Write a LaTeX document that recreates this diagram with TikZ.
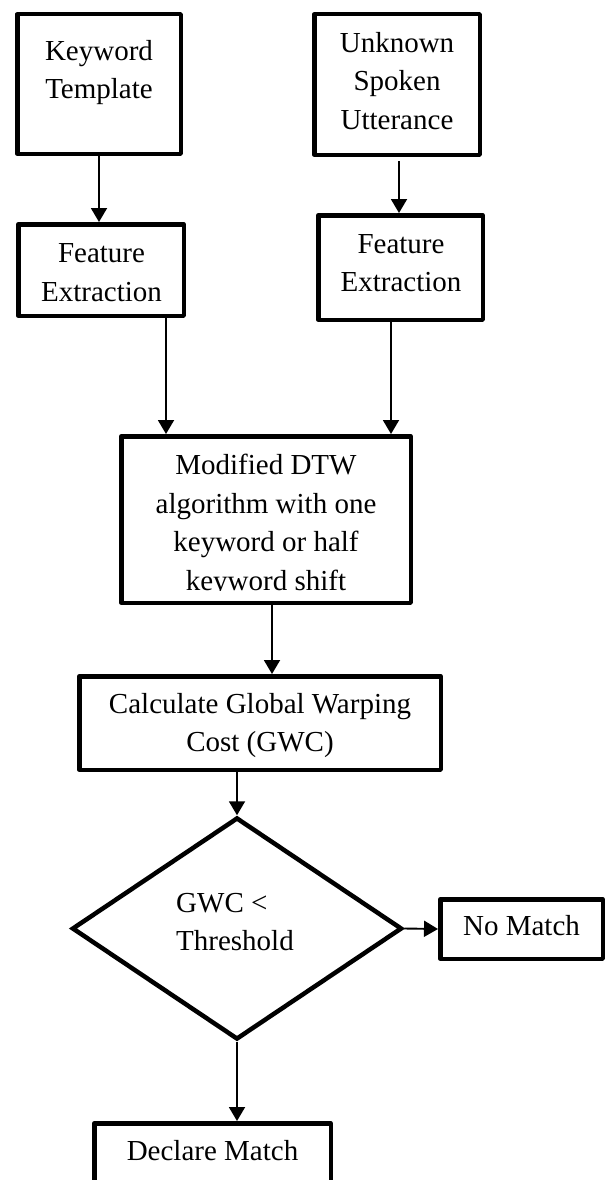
\documentclass[tikz,border=0pt]{standalone}
\usepackage{fontspec}
\setmainfont{Liberation Serif}
\usetikzlibrary{arrows.meta,shapes.geometric}
\tikzset{
  box/.style={draw, line width=4.5pt, line join=round, rectangle, inner sep=0pt},
  dia/.style={draw, line width=4.5pt, diamond, inner sep=0pt},
  txt/.style={font=\fontsize{29}{38.5}\selectfont, align=center, inner sep=0pt},
  arr/.style={line width=1.9pt, -{Triangle[length=14pt,width=16pt]}},
}
\begin{document}
\begin{tikzpicture}[x=1pt,y=1pt]
\clip (0,0) rectangle (607,-1180);
\fill[white] (0,0) rectangle (607,-1180);
% boxes
\node[box, minimum width=163.5pt, minimum height=139.5pt] (kt) at (99,-84) {};
\node[box, minimum width=165.5pt, minimum height=140.5pt] (u) at (397,-84.5) {};
\node[box, minimum width=165.5pt, minimum height=91.5pt] (fel) at (101,-270) {};
\node[box, minimum width=164.5pt, minimum height=104.5pt] (fer) at (400.5,-267.5) {};
\node[box, minimum width=289.5pt, minimum height=166.5pt] (dtw) at (266,-519.5) {};
\node[box, minimum width=361.5pt, minimum height=93.5pt] (calc) at (260,-723) {};
\node[dia, minimum width=330pt, minimum height=222pt] (d) at (237,-928.5) {};
\node[box, minimum width=162.5pt, minimum height=59.5pt] (nm) at (521.5,-929) {};
\node[box, minimum width=236.5pt, minimum height=85.5pt] (dm) at (212.5,-1166) {};
% texts
\node[txt, anchor=north] (ktt) at (99,-40) {Keyword\\Template};
\node[txt, anchor=north] (ut) at (397,-32) {Unknown\\Spoken\\Utterance};
\node[txt, anchor=north] (felt) at (101.5,-243.5) {Feature\\Extraction};
\node[txt, anchor=north] (fert) at (401,-234) {Feature\\Extraction};
\begin{scope}
\clip (119,-434) rectangle (413,-590);
\node[txt, anchor=north] (dtwt) at (266,-454) {Modified DTW\\algorithm with one\\keyword or half\\keyword shift};
\end{scope}
\node[txt, anchor=north] (calct) at (260,-693) {Calculate Global Warping\\Cost (GWC)};
\node[txt, align=left, anchor=north west] (dt) at (176,-893) {GWC <\\Threshold};
\node[txt, anchor=base] (nmt) at (521.5,-935) {No Match};
\node[txt, anchor=base] (dmt) at (212.5,-1160) {Declare Match};
% connectors
\coordinate (uout) at ([xshift=2pt,yshift=-4pt]u.south);
\coordinate (felout) at ([xshift=-20pt]fel.south east);
\coordinate (ferout) at ([xshift=-9.5pt]fer.south);
\coordinate (dtwout) at ([xshift=6pt]dtw.south);
\draw[arr] (kt.south) -- (kt.south |- fel.north);
\draw[arr] (uout) -- (uout |- fer.north);
\draw[arr] (felout) -- (felout |- dtw.north);
\draw[arr] (ferout) -- (ferout |- dtw.north);
\draw[arr] (dtwout) -- (dtwout |- calc.north);
\draw[arr] (calc.south -| d.north) -- (d.north);
\draw[arr] (d.east) -- (nm.west);
\draw[arr] (d.south) -- (d.south |- dm.north);
\end{tikzpicture}
\end{document}
